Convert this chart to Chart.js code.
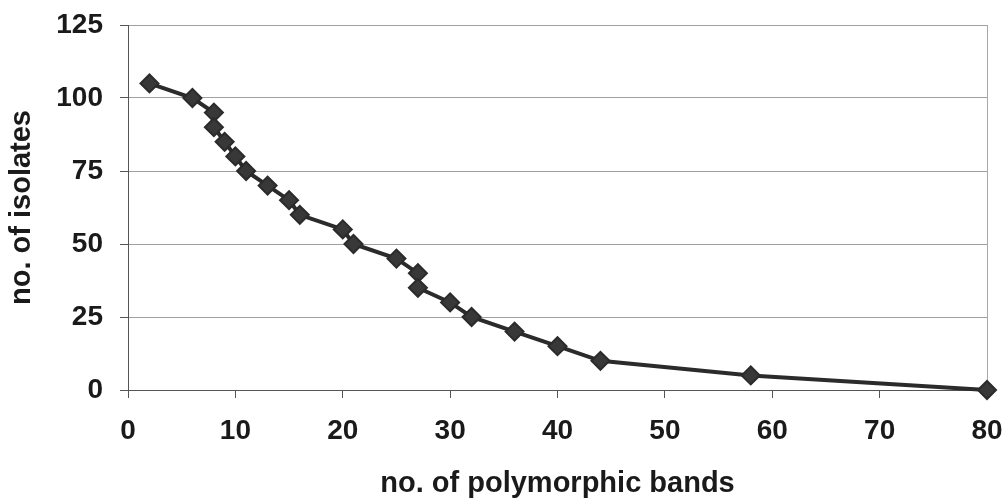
<!DOCTYPE html>
<html>
<head>
<meta charset="utf-8">
<script src="https://cdn.jsdelivr.net/npm/chart.js@4.4.1/dist/chart.umd.min.js"></script>
<style>
  html, body { margin: 0; padding: 0; background: #ffffff; }
  #wrap { width: 1005px; height: 501px; position: relative; }
</style>
</head>
<body>
<div id="wrap"><canvas id="c" width="1005" height="501"></canvas></div>
<script>
// Data
const polymorphicBands = [2, 6, 8, 8, 9, 10, 11, 13, 15, 16, 20, 21, 25, 27, 27, 30, 32, 36, 40, 44, 58, 80];
const isolates        = [105, 100, 95, 90, 85, 80, 75, 70, 65, 60, 55, 50, 45, 40, 35, 30, 25, 20, 15, 10, 5, 0];
const xTicks = [0, 10, 20, 30, 40, 50, 60, 70, 80];
const yTicks = [0, 25, 50, 75, 100, 125];
const xTitle = 'no. of polymorphic bands';
const yTitle = 'no. of isolates';

const points = polymorphicBands.map((x, i) => ({ x: x, y: isolates[i] }));

const tickFont = { family: '"Liberation Sans", Arial, sans-serif', size: 28, weight: 'bold' };
const titleFont = { family: '"Liberation Sans", Arial, sans-serif', size: 29, weight: 'bold' };

new Chart(document.getElementById('c'), {
  type: 'line',
  data: {
    datasets: [{
      data: points,
      clip: false,
      borderColor: '#2b2b2b',
      borderWidth: 4,
      backgroundColor: '#333333',
      pointStyle: 'rectRot',
      pointRadius: 9,
      pointBorderWidth: 2,
      pointBorderColor: '#2b2b2b',
      pointBackgroundColor: '#383838',
      tension: 0,
      fill: false
    }]
  },
  options: {
    responsive: false,
    animation: false,
    devicePixelRatio: 1,
    layout: { padding: { top: 25, right: 18, bottom: 0, left: 0 } },
    plugins: { legend: { display: false }, tooltip: { enabled: false } },
    scales: {
      x: {
        type: 'linear',
        min: 0, max: 80,
        afterBuildTicks: (s) => { s.ticks = xTicks.map(v => ({ value: v })); },
        afterFit: (s) => { s.height = 111; s.paddingLeft = 0; s.paddingRight = 0; },
        ticks: { font: tickFont, color: '#1a1a1a', padding: 16, maxRotation: 0, autoSkip: false },
        grid: {
          drawOnChartArea: true,
          color: (ctx) => (ctx.tick && ctx.tick.value === 80) ? '#a8a8a8' : 'rgba(0,0,0,0)',
          tickColor: '#555555',
          tickLength: 8,
          lineWidth: 1
        },
        border: { display: true, color: '#555555', width: 1 },
        title: { display: true, text: xTitle, font: titleFont, color: '#1a1a1a', padding: { top: 0, bottom: 0 } }
      },
      y: {
        type: 'linear',
        min: 0, max: 125,
        afterBuildTicks: (s) => { s.ticks = yTicks.map(v => ({ value: v })); },
        afterFit: (s) => { s.width = 128; s.paddingTop = 0; s.paddingBottom = 0; },
        ticks: { font: tickFont, color: '#1a1a1a', padding: 17, autoSkip: false },
        grid: {
          color: '#a0a0a0',
          tickColor: '#555555',
          tickLength: 8,
          lineWidth: 1
        },
        border: { display: true, color: '#555555', width: 1 },
        title: { display: true, text: yTitle, font: titleFont, color: '#1a1a1a', padding: { top: 5, bottom: 0 } }
      }
    }
  }
});
</script>
</body>
</html>
